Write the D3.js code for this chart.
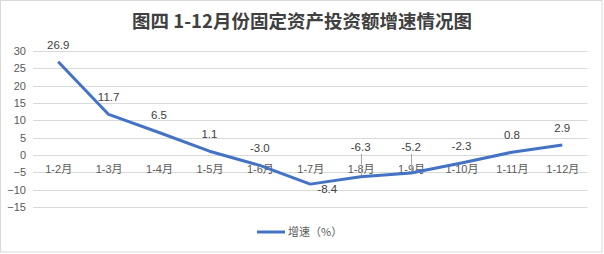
<!DOCTYPE html>
<html>
<head>
<meta charset="utf-8">
<script src="https://cdn.jsdelivr.net/npm/d3@7"></script>
<style>
  body { margin: 0; background: #fff; }
  text { font-family: "Liberation Sans", "Noto Sans CJK SC", sans-serif; }
</style>
</head>
<body>
<svg id="chart" width="604" height="254"></svg>
<script>
"use strict";

// données
var months = ["1-2月", "1-3月", "1-4月", "1-5月", "1-6月", "1-7月", "1-8月", "1-9月", "1-10月", "1-11月", "1-12月"];
var growth = [26.9, 11.7, 6.5, 1.1, -3.0, -8.4, -6.3, -5.2, -2.3, 0.8, 2.9];
var yTicks = [30, 25, 20, 15, 10, 5, 0, -5, -10, -15];
var leaderMonths = ["1-8月", "1-9月"];
var titleText = "图四 1-12月份固定资产投资额增速情况图";
var seriesName = "增速（%）";

var svg = d3.select("#chart");
var lineColor = "#4472C4";
var gridColor = "#d9d9d9";
var axisColor = "#595959";

// cadre
svg.append("rect")
    .attr("x", 0.5).attr("y", 0.5)
    .attr("width", 601.5).attr("height", 251.5)
    .attr("fill", "#fff")
    .attr("stroke", "#d9d9d9");

// titre
svg.append("text")
    .attr("x", 302)
    .attr("y", 28)
    .attr("text-anchor", "middle")
    .attr("font-size", 18.5)
    .attr("font-weight", "bold")
    .style("font-family", "'Noto Sans CJK SC', sans-serif")
    .attr("fill", "#404040")
    .text(titleText);

var x = d3.scalePoint()
    .domain(months)
    .range([33, 587.5])
    .padding(0.5);

var y = d3.scaleLinear()
    .domain([-15, 30])
    .range([207, 51]);

// grille
svg.append("g")
  .selectAll("line")
  .data(yTicks)
  .enter()
  .append("line")
    .attr("x1", 33)
    .attr("x2", 587.5)
    .attr("y1", function(d) { return Math.round(y(d)) + 0.5; })
    .attr("y2", function(d) { return Math.round(y(d)) + 0.5; })
    .attr("stroke", gridColor)
    .attr("stroke-width", 1);

// axe Y
var yAxis = svg.append("g")
    .attr("transform", "translate(30,0)")
    .call(d3.axisLeft(y).tickValues(yTicks).tickSize(0).tickPadding(4));
yAxis.select(".domain").remove();
yAxis.selectAll("text")
    .attr("font-size", 11)
    .attr("fill", axisColor)
    .style("font-family", "'Liberation Sans', sans-serif");

// étiquettes des mois (au niveau de l'axe zéro, en dessous)
var xAxis = svg.append("g")
    .attr("transform", "translate(0," + y(0) + ")")
    .call(d3.axisBottom(x).tickSize(0).tickPadding(10));
xAxis.select(".domain").remove();
xAxis.selectAll("text")
    .attr("font-size", 11)
    .attr("fill", axisColor);

// courbe
var line = d3.line()
    .x(function(d, i) { return x(months[i]); })
    .y(function(d) { return y(d); });

// lignes de rappel (étiquettes déplacées au-dessus de l'axe)
var leaderTop = y(0) - 1;
svg.append("g")
  .selectAll("line")
  .data(leaderMonths)
  .enter()
  .append("line")
    .attr("x1", function(m) { return Math.round(x(m)) + 0.5; })
    .attr("x2", function(m) { return Math.round(x(m)) + 0.5; })
    .attr("y1", leaderTop)
    .attr("y2", function(m) { return y(growth[months.indexOf(m)]); })
    .attr("stroke", "#a6a6a6")
    .attr("stroke-width", 1);

svg.append("path")
    .datum(growth)
    .attr("d", line)
    .attr("fill", "none")
    .attr("stroke", lineColor)
    .attr("stroke-width", 3)
    .attr("stroke-linejoin", "round");

// étiquettes de données
var minIndex = growth.indexOf(d3.min(growth));
svg.append("g")
  .selectAll("text")
  .data(growth)
  .enter()
  .append("text")
    .attr("x", function(d, i) { return i === minIndex ? x(months[i]) + 17 : x(months[i]); })
    .attr("y", function(d, i) {
      if (i === minIndex) return y(d) + 9;
      if (leaderMonths.indexOf(months[i]) >= 0) return leaderTop - 3;
      return y(d) - 13;
    })
    .attr("text-anchor", "middle")
    .attr("font-size", 11.5)
    .attr("fill", "#404040")
    .text(function(d) { return d.toFixed(1); });

// légende
var legend = svg.append("g");
legend.append("line")
    .attr("x1", 257).attr("x2", 285)
    .attr("y1", 232).attr("y2", 232)
    .attr("stroke", lineColor)
    .attr("stroke-width", 3);
legend.append("text")
    .attr("x", 288)
    .attr("y", 236)
    .attr("font-size", 11)
    .attr("fill", axisColor)
    .style("font-family", "'Noto Sans CJK SC', sans-serif")
    .text(seriesName);
</script>
</body>
</html>
